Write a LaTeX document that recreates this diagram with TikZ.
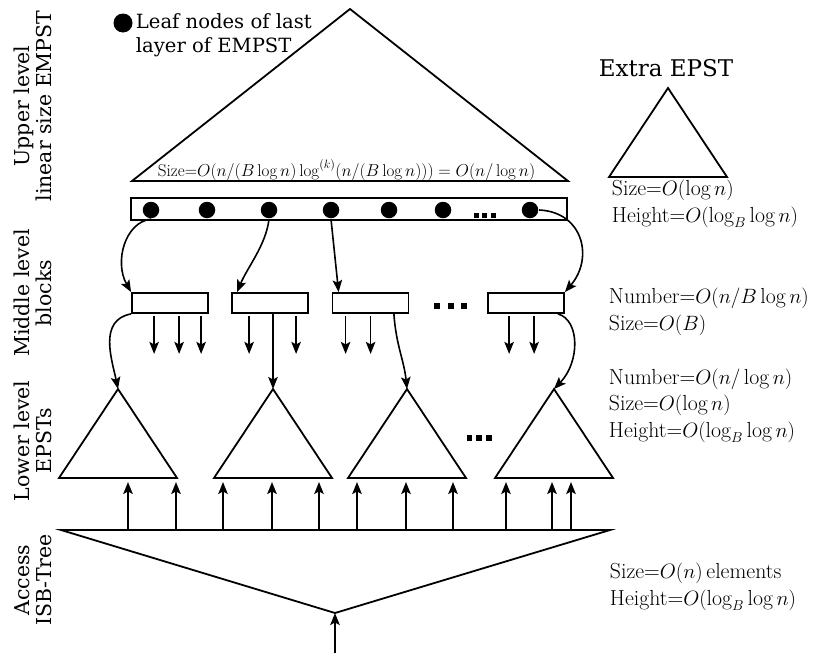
\documentclass[tikz,border=0pt]{standalone}
\usepackage{fontspec}
\newfontfamily\dvserif{DejaVu Serif}
\usetikzlibrary{arrows.meta}

\begin{document}
\begin{tikzpicture}[x=1pt,y=-1pt,
  line width=1.8pt,
  arr/.style={-{Stealth[length=12pt,width=9.5pt,inset=2.5pt]}, line width=1.6pt},
  leaf/.style={circle, fill=black, inner sep=0pt, minimum size=16.5pt},
  blk/.style={draw, line width=1.8pt, minimum width=76pt, minimum height=20pt, inner sep=0pt},
  tri/.style={line width=1.8pt, line join=miter},
  side/.style={rotate=90, align=center, inner sep=0pt, font=\dvserif\fontsize{20.5}{22.5}\selectfont},
  info/.style={anchor=base west, align=left, inner sep=0pt, font=\fontsize{21.8}{26.5}\selectfont},
]
\useasboundingbox (0,0) rectangle (818,653);

% level captions on the left
\node[side] (capU) at (33,106) {Upper level\\linear size EMPST};
\node[side] (capM) at (33,293) {Middle level\\blocks};
\node[side] (capL) at (33,441) {Lower level\\EPSTs};
\node[side] (capA) at (33,580) {Access\\ISB-Tree};

% legend (anchored on the baseline of its last line)
\node[leaf, minimum size=19pt] (key) at (123,23) {};
\node[anchor=base west, align=left, inner sep=0pt, font=\dvserif\fontsize{19.6}{24}\selectfont] (keytext) at (135,52) {Leaf nodes of last\\layer of EMPST};

% upper level EMPST
\coordinate (top) at (350,9);
\draw[tri] (top) -- (132,181) -- (568,181) -- cycle;
\node[anchor=base west, inner sep=0pt, font=\fontsize{17.1}{19}\selectfont] (topsize) at (157,176)
  {Size=$O(n/(B\log n)\log^{(k)}(n/(B\log n)))=O(n/\log n)$};

% leaf layer
\node[draw, line width=1.8pt, minimum width=436pt, minimum height=22pt, inner sep=0pt] (bar) at (349,209) {};
\foreach \n/\x in {1/151,2/207,3/269,4/331,5/389,6/443,7/530}
  \node[leaf] (l\n) at (\x,210) {};
\foreach \x in {476,484.5,493} \fill (\x-2.5,212.5) rectangle (\x+2.5,217.5);

% extra EPST
\node[anchor=base west, inner sep=0pt, font=\dvserif\fontsize{23}{26}\selectfont] (extra) at (598,76) {Extra EPST};
\coordinate (xt) at (668,88);
\draw[tri] (xt) -- (609,177) -- (727,177) -- cycle;
\node[info] (xinfo) at (611,222) {Size=$O(\log n)$\\Height=$O(\log_B\log n)$};

% middle level blocks
\node[blk] (b1) at (170,303) {};
\node[blk] (b2) at (270,303) {};
\node[blk] (b3) at (370.5,303) {};
\node[blk] (b4) at (526,303) {};
\foreach \x in {437,451,464} \fill (\x-3,303) rectangle (\x+3,309);
\node[info] (minfo) at (608,330) {Number=$O(n/B\log n)$\\Size=$O(B)$};

% leaves to blocks
\draw[arr] (l1.south) .. controls (125,222) and (114,262) .. (b1.north west);
\draw[arr] (l3.south) .. controls (266,245) and (247,268) .. ([xshift=6pt]b2.north west);
\draw[arr] (l4.south) -- ([xshift=7pt]b3.north west);
\draw[arr] (l7.east) .. controls (583,212) and (594,258) .. (b4.north east);

% short pointers out of the blocks
\foreach \dx in {23,48,70} \draw[arr] ([shift={(\dx,2)}]b1.south west) -- ++(0,38);
\foreach \dx in {18,65} \draw[arr] ([shift={(\dx,2)}]b2.south west) -- ++(0,38);
\foreach \dx in {14,39} \draw[arr] ([shift={(\dx,2)}]b3.south west) -- ++(0,38);
\foreach \dx in {22,47} \draw[arr] ([shift={(\dx,2)}]b4.south west) -- ++(0,38);

% lower level EPSTs
\coordinate (t1) at (118,389);
\coordinate (t2) at (273,389);
\coordinate (t3) at (407,389);
\coordinate (t4) at (554,389);
\foreach \t in {t1,t2,t3,t4}
  \draw[tri] (\t) -- ++(-59,89) -- ++(118,0) -- cycle;
\foreach \x in {469.5,479,489} \fill (\x-2.75,435.25) rectangle (\x+2.75,440.75);
\node[info] (linfo) at (608,437) {Number=$O(n/\log n)$\\Size=$O(\log n)$\\Height=$O(\log_B\log n)$};

% blocks to EPSTs
\draw[arr] (b1.south west) .. controls (98,320) and (112,360) .. (t1);
\draw[arr] (b2.south -| t2) -- (t2);
\draw[arr] ([xshift=-15.5pt]b3.south east) .. controls (396,345) and (404,360) .. (t3);
\draw[arr] ([xshift=-7pt]b4.south east) .. controls (580,320) and (580,362) .. (t4);

% access ISB-tree
\coordinate (isbL) at (61,530);
\coordinate (isbR) at (610,530);
\coordinate (isbA) at (335,613);
\draw[tri] (isbL) -- (isbR) -- (isbA) -- cycle;
\foreach \dx in {67,115,162,211,258,296,345,392,445,491,510}
  \draw[arr] ([xshift=\dx pt]isbL) -- ++(0,-48);
\coordinate (input) at (335,653);
\draw[arr] (input) -- (isbA);
\node[info] (ainfo) at (609,605) {Size=$O(n)$\,elements\\Height=$O(\log_B\log n)$};
\end{tikzpicture}
\end{document}
